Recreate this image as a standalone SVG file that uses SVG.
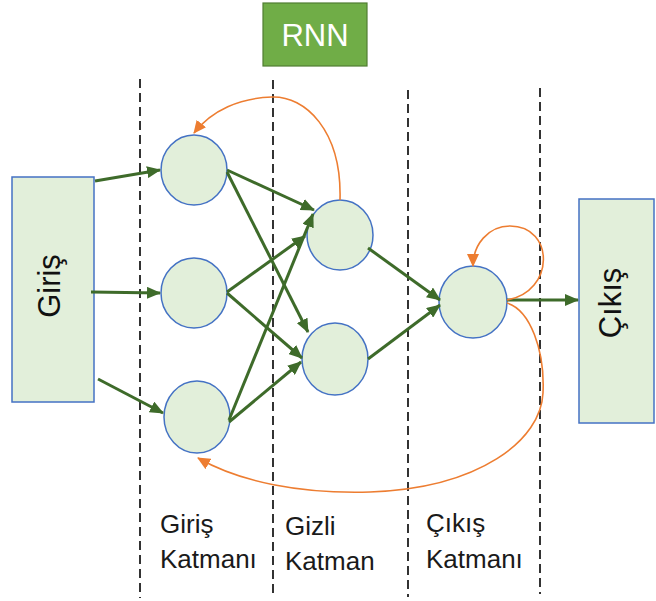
<svg xmlns="http://www.w3.org/2000/svg" width="656" height="601" viewBox="0 0 656 601">
<defs>
<marker id="ag" markerWidth="14" markerHeight="12" viewBox="0 0 14 12" refX="13" refY="6" orient="auto" markerUnits="userSpaceOnUse"><path d="M0,0 L14,6 L0,12 z" fill="#3E6B2A"/></marker>
<marker id="ao" markerWidth="13" markerHeight="12" viewBox="0 0 13 12" refX="12" refY="6" orient="auto" markerUnits="userSpaceOnUse"><path d="M0,0 L13,6 L0,12 z" fill="#ED7D31"/></marker>
<style>
.box{fill:#E2EFDA;stroke:#4472C4;stroke-width:1.5}
.n{fill:#E2EFDA;stroke:#4472C4;stroke-width:1.5}
.dash{stroke:#000;stroke-width:1.6;stroke-dasharray:9 5;fill:none}
.g{stroke:#3E6B2A;stroke-width:3;fill:none;marker-end:url(#ag)}
.o{stroke:#ED7D31;stroke-width:1.6;fill:none;marker-end:url(#ao)}
.lbl{font-family:"Liberation Sans",Arial,sans-serif;font-size:26px;fill:#1a1a1a}
.big{font-family:"Liberation Sans",Arial,sans-serif;font-size:31px;fill:#111}
</style>
</defs>
<rect width="656" height="601" fill="#fff"/>
<g id="dividers">
<line class="dash" x1="140" y1="79" x2="140" y2="598"/>
<line class="dash" x1="273" y1="80" x2="273" y2="598"/>
<line class="dash" x1="408" y1="90" x2="408" y2="597"/>
<line class="dash" x1="540" y1="88" x2="540" y2="594"/>
</g>
<g id="rnn">
<rect x="263" y="3" width="104" height="63" fill="#70AD47" stroke="#507E32" stroke-width="1.2"/>
<text x="315" y="46" text-anchor="middle" font-family="'Liberation Sans',Arial,sans-serif" font-size="31" fill="#fff">RNN</text>
</g>
<g id="giris">
<rect class="box" x="12" y="177" width="82" height="225"/>
<text class="big" transform="translate(60,286) rotate(-90)" text-anchor="middle">Giriş</text>
</g>
<g id="cikis">
<rect class="box" x="579" y="199" width="75" height="224"/>
<text class="big" transform="translate(621,303) rotate(-90)" text-anchor="middle">Çıkış</text>
</g>
<g id="in1"><ellipse class="n" cx="194" cy="170" rx="33" ry="35"/></g>
<g id="in2"><ellipse class="n" cx="194" cy="293" rx="33" ry="35"/></g>
<g id="in3"><ellipse class="n" cx="197" cy="417" rx="33" ry="36"/></g>
<g id="h1"><ellipse class="n" cx="340" cy="235" rx="33" ry="35"/></g>
<g id="h2"><ellipse class="n" cx="335" cy="359" rx="33" ry="36"/></g>
<g id="out"><ellipse class="n" cx="473" cy="302" rx="34" ry="36"/></g>
<g id="connectors">
<line class="g" x1="95" y1="181" x2="160" y2="170"/>
<line class="g" x1="91" y1="292" x2="160" y2="293"/>
<line class="g" x1="98" y1="379" x2="163" y2="413"/>
<line class="g" x1="227" y1="170" x2="314" y2="210"/>
<line class="g" x1="227" y1="172" x2="308" y2="332"/>
<line class="g" x1="227" y1="292" x2="305" y2="236"/>
<line class="g" x1="227" y1="293" x2="302" y2="358"/>
<line class="g" x1="229" y1="420" x2="313" y2="214"/>
<line class="g" x1="229" y1="422" x2="301" y2="362"/>
<line class="g" x1="368" y1="248" x2="440" y2="300"/>
<line class="g" x1="368" y1="359" x2="440" y2="305"/>
<line class="g" x1="507" y1="300" x2="578" y2="300"/>
<path class="o" d="M340,200 C342,130 305,96 272,97 C240,98 212,110 194,133"/>
<path class="o" d="M507,300 C555,292 555,226 510,226 C488,226 473,245 473,266"/>
<path class="o" d="M507,303 C530,310 545,350 543,393 C541,440 480,488 370,492 C300,494 240,482 198,458"/>
</g>
<g id="labels">
<text class="lbl" x="160" y="533">Giriş</text>
<text class="lbl" x="160" y="568">Katmanı</text>
<text class="lbl" x="285" y="535">Gizli</text>
<text class="lbl" x="285" y="570">Katman</text>
<text class="lbl" x="426" y="532">Çıkış</text>
<text class="lbl" x="426" y="568">Katmanı</text>
</g>
</svg>
